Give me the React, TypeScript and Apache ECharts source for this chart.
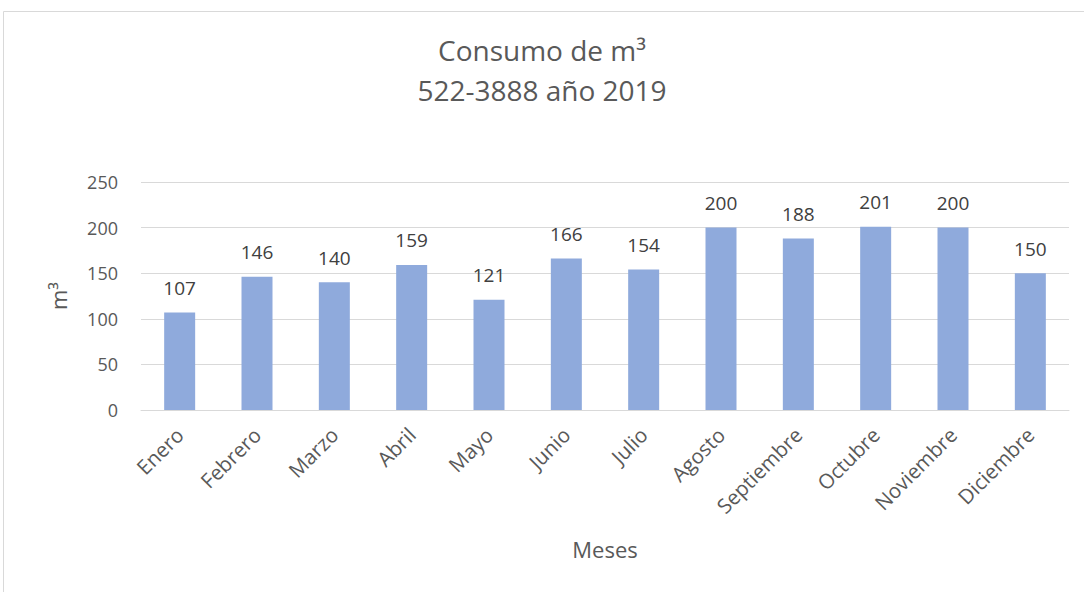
import React, { useEffect, useRef } from "react";
import * as echarts from "echarts";

const categories = ["Enero", "Febrero", "Marzo", "Abril", "Mayo", "Junio", "Julio", "Agosto", "Septiembre", "Octubre", "Noviembre", "Diciembre"];
const consumo = [107, 146, 140, 159, 121, 166, 154, 200, 188, 201, 200, 150];

const FONT = "'Open Sans', 'Noto Sans', sans-serif";

export default function App() {
  const ref = useRef<HTMLDivElement>(null);
  useEffect(() => {
    document.body.style.margin = "0";
    const chart = echarts.init(ref.current!, null, { renderer: "svg" });
    chart.setOption({
      animation: false,
      textStyle: { fontFamily: FONT },
      graphic: [
        {
          type: "rect",
          shape: { x: 3.5, y: 11.5, width: 1200, height: 700 },
          style: { fill: "none", stroke: "#d9d9d9", lineWidth: 1 },
          silent: true,
        },
      ],
      title: {
        text: "Consumo de m³\n522-3888 año 2019",
        left: "center",
        top: 25,
        textStyle: { fontFamily: FONT, fontSize: 28, fontWeight: "normal", color: "#595959", lineHeight: 40 },
      },
      grid: { left: 141, right: 15, top: 182, bottom: 182, containLabel: false },
      xAxis: {
        type: "category",
        data: categories,
        name: "Meses",
        nameLocation: "middle",
        nameGap: 128,
        nameTextStyle: { fontFamily: FONT, fontSize: 22, color: "#595959" },
        axisLine: { show: true, lineStyle: { color: "#d9d9d9", width: 1 } },
        axisTick: { show: false },
        axisLabel: { rotate: 45, fontFamily: FONT, fontSize: 20.5, color: "#595959", margin: 21, interval: 0 },
      },
      yAxis: {
        type: "value",
        min: 0,
        max: 250,
        interval: 50,
        name: "m³",
        nameLocation: "middle",
        nameGap: 72,
        nameRotate: 90,
        nameTextStyle: { fontFamily: FONT, fontSize: 22, color: "#595959" },
        axisLine: { show: false },
        axisTick: { show: false },
        splitLine: { lineStyle: { color: "#d9d9d9", width: 1 } },
        axisLabel: { fontFamily: FONT, fontSize: 18, color: "#595959", margin: 23 },
      },
      series: [
        {
          type: "bar",
          data: consumo,
          barWidth: 31,
          itemStyle: { color: "#8faadc" },
          label: { show: true, position: "top", distance: 15, fontFamily: FONT, fontSize: 19, color: "#404040" },
        },
      ],
    });
    return () => chart.dispose();
  }, []);
  return <div ref={ref} style={{ width: 1084, height: 592 }} />;
}
